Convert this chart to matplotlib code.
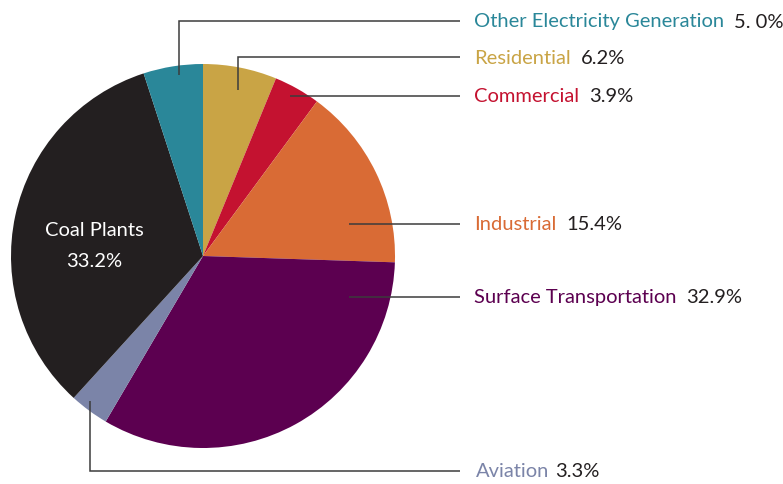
import matplotlib
matplotlib.use("Agg")
import matplotlib.pyplot as plt

categories = ["Residential", "Commercial", "Industrial", "Surface Transportation",
              "Aviation", "Coal Plants", "Other Electricity Generation"]
values = [6.2, 3.9, 15.4, 32.9, 3.3, 33.2, 5.0]
value_labels = ["6.2%", "3.9%", "15.4%", "32.9%", "3.3%", "33.2%", "5. 0%"]
colors = ["#c9a445", "#c41230", "#d96b35", "#5c0050", "#7b84a8", "#231f20", "#2a8799"]

plt.rcParams['font.family'] = ['Lato', 'DejaVu Sans']

W, H = 783, 485
fig = plt.figure(figsize=(W / 100, H / 100), dpi=100)
ax = fig.add_axes([0, 0, 1, 1])

center = (203, 257)
radius = 192
ax.pie(values, colors=colors, startangle=-90, counterclock=True,
       center=center, radius=radius, wedgeprops=dict(linewidth=0))
ax.set_xlim(0, W)
ax.set_ylim(H, 0)
ax.set_aspect('equal')
ax.axis('off')

# font size fitted so the longest label spans like the reference
renderer = fig.canvas.get_renderer()
t = ax.text(0, 0, "Other Electricity Generation", fontsize=10)
w10 = t.get_window_extent(renderer).width
t.remove()
fs = 10 * 250 / w10

line_col = "#3c3c3c"
# leader paths (pixel layout) and label positions per category
leaders = {
    "Other Electricity Generation": ([(179, 76), (179, 22), (460, 22)], (474, 22)),
    "Residential": ([(238, 91), (238, 58), (460, 58)], (474, 58)),
    "Commercial": ([(290, 97), (460, 97)], (474, 97)),
    "Industrial": ([(349, 225), (460, 225)], (474, 225)),
    "Surface Transportation": ([(349, 298), (460, 298)], (474, 298)),
    "Aviation": ([(90, 402), (90, 472), (460, 472)], (476, 472)),
}

for name, val, col in zip(categories, value_labels, colors):
    if name == "Coal Plants":
        ax.text(94, 231, name, color="white", fontsize=fs, ha="center", va="center")
        ax.text(94, 262, val, color="white", fontsize=fs, ha="center", va="center")
        continue
    pts, (tx, ty) = leaders[name]
    xs = [p[0] for p in pts]
    ys = [p[1] for p in pts]
    ax.plot(xs, ys, color=line_col, lw=1.1, solid_capstyle="butt", solid_joinstyle="miter")
    tn = ax.text(tx, ty, name, color=col, fontsize=fs, ha="left", va="center")
    bb = tn.get_window_extent(renderer)
    x_end = ax.transData.inverted().transform((bb.x1, bb.y0))[0]
    gap = 6 if name == "Aviation" else 10
    ax.text(x_end + gap, ty, val, color="#231f20", fontsize=fs, ha="left", va="center")

fig.savefig("out.png", dpi=100)
